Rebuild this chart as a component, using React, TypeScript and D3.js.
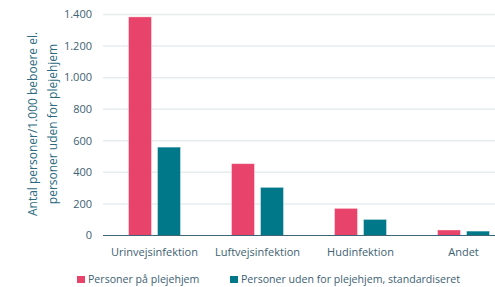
import { useRef, useEffect } from 'react';
import * as d3 from 'd3';

const categories = ['Urinvejsinfektion', 'Luftvejsinfektion', 'Hudinfektion', 'Andet'];
const plejehjem = [1385, 455, 172, 35];
const udenfor = [560, 305, 102, 28];
const seriesNames = ['Personer på plejehjem', 'Personer uden for plejehjem, standardiseret'];
const yTicks = [0, 200, 400, 600, 800, 1000, 1200, 1400];

const colors = ['#e8436a', '#00788a'];
const textColor = '#3d6172';
const font = '"Open Sans", "Noto Sans", sans-serif';

const W = 495;
const H = 287;

const App = () => {
  const svgRef = useRef<SVGSVGElement>(null);

  useEffect(() => {
    const svg = d3.select(svgRef.current);
    svg.selectAll('*').remove();

    const x = d3.scaleBand().domain(categories).range([103, 515]).padding(0);
    const y = d3.scaleLinear().domain([0, 1400]).range([235.5, 14.5]);
    const fmt = (v: number) => d3.format(',')(v).replace(/,/g, '.');

    // grid
    svg.append('g')
      .selectAll('line')
      .data(yTicks.filter(t => t > 0))
      .join('line')
      .attr('x1', 103).attr('x2', W)
      .attr('y1', d => y(d)).attr('y2', d => y(d))
      .attr('stroke', '#e6edef').attr('stroke-width', 1.5);

    svg.append('g')
      .selectAll('text')
      .data(yTicks)
      .join('text')
      .attr('x', 92).attr('y', d => y(d)).attr('dy', '0.35em')
      .attr('text-anchor', 'end')
      .attr('font-family', font).attr('font-size', 11)
      .attr('fill', textColor)
      .text(d => fmt(d));

    const bw = 23;
    const gap = 6;
    const groups = svg.append('g')
      .selectAll('g')
      .data(categories)
      .join('g')
      .attr('transform', d => `translate(${(x(d) as number) + x.bandwidth() / 2},0)`);

    [plejehjem, udenfor].forEach((vals, si) => {
      groups.append('rect')
        .attr('x', si === 0 ? -bw - gap / 2 : gap / 2)
        .attr('width', bw)
        .attr('y', (_, i) => y(vals[i]))
        .attr('height', (_, i) => y(0) - y(vals[i]))
        .attr('fill', colors[si])
        .attr('stroke', '#ffffff').attr('stroke-opacity', 0.5).attr('stroke-width', 0.8);
    });

    // baseline
    svg.append('line')
      .attr('x1', 103).attr('x2', W)
      .attr('y1', y(0)).attr('y2', y(0))
      .attr('stroke', '#3d6577').attr('stroke-width', 1.2);

    groups.append('text')
      .attr('y', 256)
      .attr('text-anchor', 'middle')
      .attr('font-family', font).attr('font-size', 11)
      .attr('fill', textColor)
      .text(d => d);

    // y title
    const title = svg.append('text')
      .attr('transform', 'translate(0,124) rotate(-90)')
      .attr('text-anchor', 'middle')
      .attr('font-family', font).attr('font-size', 12)
      .attr('fill', '#2b6a80');
    title.append('tspan').attr('x', 0).attr('y', 37).text('Antal personer/1.000 beboere el.');
    title.append('tspan').attr('x', 0).attr('y', 57).text('personer uden for plejehjem');

    // legend
    const legX = [77, 230];
    const leg = svg.append('g')
      .selectAll('g')
      .data(seriesNames)
      .join('g')
      .attr('transform', (_, i) => `translate(${legX[i]},276)`);
    leg.append('rect').attr('width', 8).attr('height', 7).attr('fill', (_, i) => colors[i]);
    leg.append('text')
      .attr('x', 11).attr('y', 3.5).attr('dy', '0.35em')
      .attr('font-family', font).attr('font-size', 10.6)
      .attr('fill', textColor)
      .text(d => d);
  }, []);

  return <svg ref={svgRef} width={W} height={H} style={{ position: 'absolute', left: 0, top: 0 }}></svg>;
};

export default App;
